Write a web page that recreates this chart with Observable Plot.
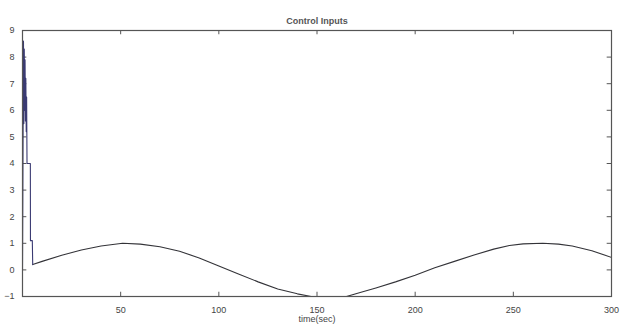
<!DOCTYPE html>
<html><head><meta charset="utf-8">
<script src="https://cdn.jsdelivr.net/npm/d3@7"></script>
<script src="https://cdn.jsdelivr.net/npm/@observablehq/plot@0.6"></script>
<style>
body{margin:0;background:#fff;}
svg{font-family:"Liberation Sans",Arial,sans-serif;}
</style></head>
<body><div id="chart"></div>
<script>
const title = "Control Inputs";
const xLabel = "time(sec)";
const xTicks = [50, 100, 150, 200, 250, 300];
const yTicks = [-1, 0, 1, 2, 3, 4, 5, 6, 7, 8, 9];
// initial transient (spike)
const spikeT = [0, 0.5, 0.7, 0.9, 1.1, 1.3, 1.5, 1.7, 1.9, 2.1, 2.3, 4.0, 4.05, 5.0, 5.2];
const spikeV = [0, 8.6, 5.5, 8.3, 6.0, 7.9, 5.6, 7.2, 5.2, 6.5, 4.0, 4.0, 1.1, 1.1, 0.2];
// sinusoidal part
const sineT = [5.2, 10, 20, 30, 40, 51, 60, 70, 80, 90, 100, 110, 120, 130, 140, 147, 165, 172, 180, 190, 200, 210, 220, 230, 240, 248, 255, 265, 273, 280, 290, 300];
const sineV = [0.2, 0.32, 0.55, 0.75, 0.9, 1.0, 0.97, 0.87, 0.7, 0.45, 0.15, -0.15, -0.45, -0.72, -0.9, -1.0, -1.0, -0.85, -0.68, -0.45, -0.2, 0.08, 0.32, 0.56, 0.78, 0.92, 0.98, 1.0, 0.97, 0.9, 0.72, 0.47];

const spike = spikeT.map((t, i) => ({t, v: spikeV[i]}));
const sine = sineT.map((t, i) => ({t, v: sineV[i]}));

const chart = Plot.plot({
  width: 623, height: 327,
  marginLeft: 22, marginRight: 12, marginTop: 30, marginBottom: 31,
  style: {fontSize: "9px", color: "#444", background: "#fff"},
  x: {domain: [0, 300], ticks: xTicks, tickSize: 0, tickPadding: 10, label: null},
  y: {domain: [-1, 9], ticks: yTicks, tickSize: 0, tickPadding: 8, label: null},
  marks: [
    Plot.ruleX(xTicks, {y1: -1, y2: -0.84, stroke: "#555"}),
    Plot.ruleX(xTicks, {y1: 9, y2: 8.84, stroke: "#555"}),
    Plot.ruleY(yTicks, {x1: 0, x2: 2.2, stroke: "#555"}),
    Plot.ruleY(yTicks, {x1: 300, x2: 297.8, stroke: "#555"}),
    Plot.line(sine, {x: "t", y: "v", stroke: "#333338", strokeWidth: 1.1, clip: true}),
    Plot.line(spike, {x: "t", y: "v", stroke: "#3a3a72", strokeWidth: 1.1, clip: true}),
    Plot.frame({stroke: "#555", strokeWidth: 1.2}),
    Plot.text([title], {frameAnchor: "top", dy: -13, fontSize: 9, fontWeight: "bold", fill: "#555"}),
    Plot.text([xLabel], {frameAnchor: "bottom", dy: 25, fontSize: 9, fill: "#444"})
  ]
});
document.getElementById("chart").appendChild(chart);
</script></body></html>
